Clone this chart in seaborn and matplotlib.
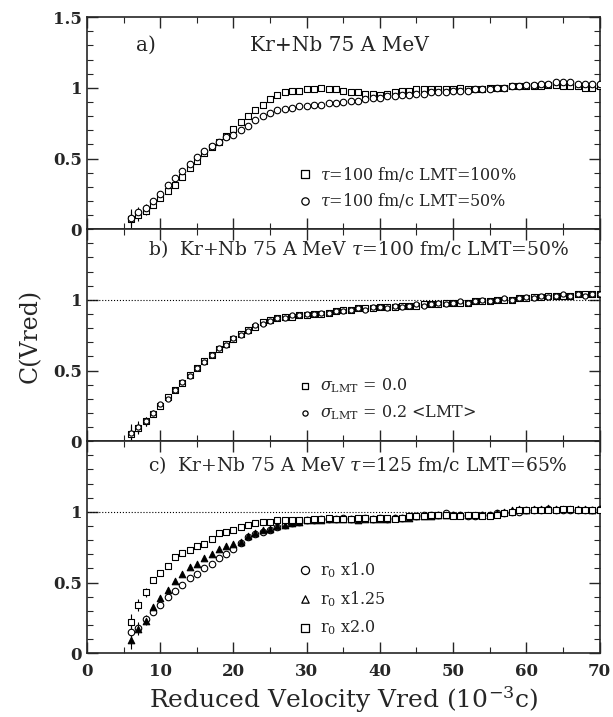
import numpy as np
import pandas as pd
import seaborn as sns
import matplotlib.pyplot as plt
from matplotlib.ticker import MultipleLocator

# velocity bins (10^-3 c)
vred = list(range(6, 71))

# panel a
a_lmt100 = [0.07, 0.10, 0.13, 0.17, 0.22, 0.27, 0.31, 0.37, 0.43, 0.48, 0.54, 0.58, 0.62, 0.66, 0.71,
            0.76, 0.80, 0.84, 0.88, 0.92, 0.95, 0.97, 0.98, 0.98, 0.99, 0.99, 1.00, 0.99, 0.99, 0.98,
            0.97, 0.97, 0.96, 0.96, 0.95, 0.96, 0.97, 0.98, 0.98, 0.99, 0.99, 0.99, 0.99, 0.99, 0.99,
            1.00, 0.99, 0.99, 0.99, 1.00, 1.00, 1.00, 1.01, 1.01, 1.01, 1.01, 1.01, 1.02, 1.02, 1.01,
            1.01, 1.01, 1.00, 1.00, 1.01]
a_lmt50 = [0.08, 0.12, 0.15, 0.20, 0.25, 0.31, 0.36, 0.41, 0.46, 0.51, 0.55, 0.59, 0.62, 0.65, 0.67,
           0.70, 0.73, 0.77, 0.80, 0.82, 0.84, 0.85, 0.86, 0.87, 0.87, 0.88, 0.88, 0.89, 0.89, 0.90,
           0.91, 0.91, 0.92, 0.93, 0.93, 0.94, 0.94, 0.95, 0.95, 0.96, 0.96, 0.97, 0.97, 0.97, 0.98,
           0.98, 0.98, 0.99, 0.99, 0.99, 1.00, 1.00, 1.01, 1.01, 1.02, 1.02, 1.03, 1.03, 1.04, 1.04,
           1.04, 1.03, 1.03, 1.03, 1.03]

# panel b
b_sig0 = [0.05, 0.09, 0.14, 0.19, 0.25, 0.31, 0.36, 0.41, 0.47, 0.52, 0.57, 0.61, 0.65, 0.69, 0.72,
          0.76, 0.79, 0.81, 0.84, 0.86, 0.87, 0.88, 0.88, 0.89, 0.89, 0.90, 0.90, 0.91, 0.92, 0.93,
          0.93, 0.94, 0.94, 0.94, 0.95, 0.95, 0.95, 0.96, 0.96, 0.96, 0.97, 0.97, 0.97, 0.98, 0.98,
          0.98, 0.98, 0.99, 0.99, 0.99, 1.00, 1.00, 1.00, 1.01, 1.01, 1.02, 1.02, 1.03, 1.03, 1.03,
          1.03, 1.04, 1.04, 1.04, 1.04]
b_sig02 = [0.06, 0.10, 0.14, 0.20, 0.26, 0.30, 0.36, 0.42, 0.46, 0.52, 0.56, 0.61, 0.66, 0.68, 0.73,
           0.75, 0.78, 0.82, 0.83, 0.85, 0.87, 0.87, 0.89, 0.89, 0.90, 0.90, 0.91, 0.91, 0.92, 0.92,
           0.93, 0.94, 0.93, 0.95, 0.95, 0.94, 0.96, 0.95, 0.96, 0.97, 0.96, 0.97, 0.98, 0.97, 0.98,
           0.99, 0.98, 0.99, 1.00, 0.99, 1.00, 1.01, 1.00, 1.01, 1.02, 1.01, 1.03, 1.02, 1.03, 1.04,
           1.03, 1.04, 1.03, 1.04, 1.04]

# panel c
c_r10 = [0.15, 0.18, 0.24, 0.29, 0.34, 0.40, 0.44, 0.48, 0.53, 0.56, 0.60, 0.63, 0.67, 0.70, 0.74,
         0.78, 0.82, 0.84, 0.86, 0.87, 0.89, 0.91, 0.92, 0.93, 0.94, 0.94, 0.95, 0.95, 0.95, 0.96,
         0.95, 0.95, 0.96, 0.95, 0.96, 0.95, 0.96, 0.96, 0.97, 0.97, 0.98, 0.98, 0.98, 0.99, 0.98,
         0.98, 0.97, 0.97, 0.98, 0.98, 0.99, 0.99, 1.00, 1.00, 1.01, 1.01, 1.01, 1.02, 1.01, 1.01,
         1.01, 1.01, 1.01, 1.01, 1.02]
c_r125 = [0.09, 0.17, 0.23, 0.33, 0.39, 0.45, 0.51, 0.56, 0.61, 0.63, 0.67, 0.70, 0.74, 0.76, 0.77,
          0.79, 0.83, 0.85, 0.87, 0.88, 0.90, 0.91, 0.92, 0.93, 0.94, 0.94, 0.94, 0.95, 0.95, 0.95,
          0.95, 0.94, 0.95, 0.95, 0.95, 0.95, 0.96, 0.96, 0.96, 0.97, 0.97, 0.97, 0.98, 0.98, 0.98,
          0.98, 0.98, 0.98, 0.98, 0.98, 0.99, 1.00, 1.01, 1.02, 1.01, 1.02, 1.02, 1.03, 1.02, 1.02,
          1.02, 1.02, 1.02, 1.01, 1.02]
c_r20 = [0.22, 0.34, 0.43, 0.52, 0.57, 0.62, 0.68, 0.71, 0.73, 0.76, 0.77, 0.81, 0.85, 0.86, 0.87,
         0.89, 0.91, 0.92, 0.93, 0.93, 0.94, 0.94, 0.94, 0.94, 0.94, 0.95, 0.95, 0.96, 0.95, 0.95,
         0.95, 0.96, 0.96, 0.95, 0.96, 0.96, 0.95, 0.96, 0.97, 0.97, 0.97, 0.98, 0.98, 0.98, 0.97,
         0.97, 0.98, 0.98, 0.97, 0.97, 0.98, 0.99, 1.00, 1.01, 1.01, 1.01, 1.01, 1.01, 1.01, 1.02,
         1.02, 1.01, 1.01, 1.01, 1.01]

# errors on the first bins only
first_err = [0.06, 0.04, 0.03, 0.02]

sns.set_style("ticks")
plt.rcParams['font.family'] = ['DejaVu Serif']
plt.rcParams['mathtext.fontset'] = 'dejavuserif'

fig, axes = plt.subplots(3, 1, figsize=(6.13, 7.17), dpi=100, sharex=True)
fig.subplots_adjust(left=0.142, right=0.978, top=0.976, bottom=0.089, hspace=0)


def draw_series(ax, y, marker, filled=False, size=22):
    df = pd.DataFrame({'v': vred, 'c': y})
    err = first_err + [0] * (len(y) - len(first_err))
    ax.errorbar(df['v'], df['c'], yerr=err, fmt='none', ecolor='black', elinewidth=0.8)
    sns.scatterplot(data=df, x='v', y='c', ax=ax, marker=marker, s=size,
                    facecolor='black' if filled else 'white', edgecolor='black',
                    linewidth=0.8, zorder=3)


def legend_entry(ax, y, marker, label, filled=False, size=28):
    ax.scatter([29.8], [y], marker=marker, s=size, facecolor='black' if filled else 'white',
               edgecolor='black', linewidth=0.9)
    ax.text(31.8, y, label, fontsize=11.5, va='center')


draw_series(axes[0], a_lmt100, 's')
draw_series(axes[0], a_lmt50, 'o')
axes[0].text(8, 1.3, 'a)', fontsize=14.5, ha='center', va='center')
axes[0].text(34.5, 1.3, 'Kr+Nb 75 A MeV', fontsize=14.5, ha='center', va='center')
legend_entry(axes[0], 0.39, 's', r'$\tau$=100 fm/c LMT=100%')
legend_entry(axes[0], 0.20, 'o', r'$\tau$=100 fm/c LMT=50%')

draw_series(axes[1], b_sig0, 's', size=14)
draw_series(axes[1], b_sig02, 'o', size=14)
axes[1].plot([0, 70], [1, 1], ls=':', color='black', lw=0.8, zorder=1)
axes[1].text(8.3, 1.36, r'b)  Kr+Nb 75 A MeV $\tau$=100 fm/c LMT=50%', fontsize=13.5, va='center')
legend_entry(axes[1], 0.39, 's', r'$\sigma_{\rm LMT}$ = 0.0', size=14)
legend_entry(axes[1], 0.20, 'o', r'$\sigma_{\rm LMT}$ = 0.2 <LMT>', size=14)

draw_series(axes[2], c_r10, 'o')
draw_series(axes[2], c_r125, '^', filled=True)
draw_series(axes[2], c_r20, 's')
axes[2].plot([0, 70], [1, 1], ls=':', color='black', lw=0.8, zorder=1)
axes[2].text(8.3, 1.33, r'c)  Kr+Nb 75 A MeV $\tau$=125 fm/c LMT=65%', fontsize=13.5, va='center')
legend_entry(axes[2], 0.59, 'o', r'r$_0$ x1.0', size=34)
legend_entry(axes[2], 0.38, '^', r'r$_0$ x1.25', size=28)
legend_entry(axes[2], 0.18, 's', r'r$_0$ x2.0', size=34)

for i, ax in enumerate(axes):
    ax.set_xlim(0, 70)
    ax.set_ylim(0, 1.5)
    ax.set_xlabel('')
    ax.set_ylabel('')
    ax.xaxis.set_major_locator(MultipleLocator(10))
    ax.xaxis.set_minor_locator(MultipleLocator(5))
    ax.yaxis.set_minor_locator(MultipleLocator(0.1))
    ax.set_yticks([0, 0.5, 1, 1.5] if i == 0 else [0, 0.5, 1])
    ax.set_yticklabels(['0', '0.5', '1', '1.5'] if i == 0 else ['0', '0.5', '1'], fontweight='bold')
    ax.tick_params(which='both', direction='in', top=True, right=True, labelsize=12)
    ax.tick_params(which='major', length=8, width=1)
    ax.tick_params(which='minor', length=4, width=0.8)
    for sp in ax.spines.values():
        sp.set_linewidth(1.2)

axes[2].set_xticks(range(0, 71, 10))
axes[2].set_xticklabels([str(v) for v in range(0, 71, 10)], fontweight='bold')
axes[2].tick_params(axis='x', pad=7)
axes[2].set_xlabel(r'Reduced Velocity Vred (10$^{-3}$c)', fontsize=18, labelpad=3)
fig.text(0.049, 0.531, 'C(Vred)', rotation=90, fontsize=17, ha='center', va='center')

fig.savefig('out.png', dpi=100)
